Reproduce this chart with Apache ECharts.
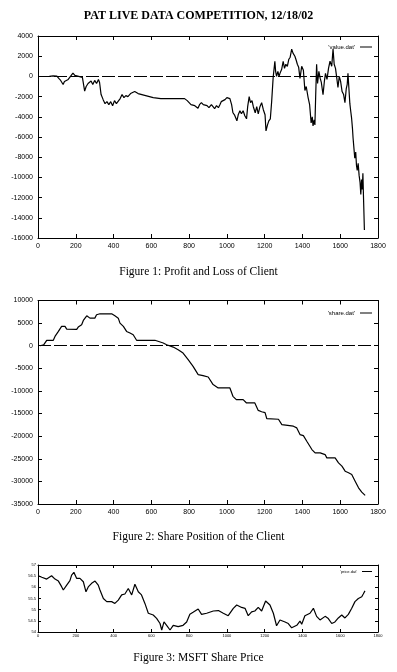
<!DOCTYPE html>
<html><head><meta charset="utf-8">
<script src="https://cdn.jsdelivr.net/npm/echarts@6/dist/echarts.min.js"></script>
<style>html,body{margin:0;padding:0;background:#fff}#c{width:397px;height:672px}</style>
</head><body><div id="c"></div>
<script>
const pnlX = [60,80,100,110,120,133,140,150,160,170,185,195,205,215,225,235,247,255,265,281,290,300,310,320,326,334,345,355,365,375,385,395,405,415,423,435,445,455,465,476,490,500,512,530,550,570,590,610,630,650,700,750,776,790,800,810,820,830,847,855,865,875,885,895,905,918,935,945,955,963,970,980,990,1000,1016,1025,1032,1040,1053,1060,1069,1077,1086,1095,1104,1110,1118,1125,1133,1140,1150,1158,1166,1175,1184,1193,1202,1207,1215,1222,1230,1237,1245,1254,1258,1263,1270,1276,1281,1290,1298,1305,1312,1320,1328,1335,1343,1350,1360,1367,1373,1380,1387,1396,1405,1413,1420,1430,1438,1446,1452,1456,1462,1466,1470,1475,1480,1487,1494,1500,1509,1516,1522,1530,1538,1546,1555,1562,1568,1575,1582,1588,1595,1602,1610,1618,1625,1632,1637,1641,1646,1651,1656,1660,1665,1668,1673,1677,1682,1686,1690,1695,1700,1705,1709,1713,1717,1720,1723,1727,1728];
const pnlY = [0,50,30,-200,-400,-800,-500,-600,-300,-200,330,100,200,0,100,-100,-1450,-1000,-700,-450,-800,-400,-700,-300,-600,-1800,-2300,-2700,-2500,-2800,-2500,-2900,-2400,-2700,-2500,-2200,-1800,-2100,-1900,-2000,-1700,-1600,-1500,-1700,-1800,-1900,-2000,-2100,-2150,-2200,-2200,-2200,-2200,-2400,-2600,-2800,-2700,-2900,-3150,-2800,-2600,-2800,-2700,-2900,-3100,-2800,-3200,-2900,-3100,-2800,-2500,-2450,-2300,-2100,-2200,-2800,-3600,-3800,-4400,-3800,-3400,-3700,-3400,-3900,-4200,-3000,-2000,-2600,-2400,-3000,-3600,-3000,-3700,-3000,-2600,-3300,-3800,-5400,-4800,-4400,-4200,-2500,-100,1500,500,0,500,0,300,700,1500,800,1200,1000,1700,1900,2700,2300,2000,1600,1200,900,-200,1000,600,-1400,-1000,-2100,-2800,-4600,-4000,-4900,-4300,-4800,-2000,1200,-700,500,-200,-600,-1800,-500,300,-300,800,1500,1000,2700,1200,800,-200,-1100,0,-500,-1500,-1800,-2600,-1200,-800,300,-1200,-2700,-3500,-4100,-5200,-6100,-7200,-8100,-7500,-8800,-9300,-8600,-9800,-10500,-11700,-10200,-11200,-9600,-11800,-11900,-15200];
const shareX = [11,30,46,81,90,108,125,143,152,205,213,231,240,258,275,301,310,328,390,407,425,434,452,469,487,504,522,619,628,663,681,716,742,768,795,821,848,874,901,927,954,1016,1032,1050,1086,1104,1148,1166,1184,1202,1211,1273,1291,1352,1370,1387,1405,1423,1450,1467,1494,1520,1529,1573,1591,1609,1626,1644,1661,1679,1697,1714,1732];
const shareY = [0,200,1200,1200,2060,3160,4270,4270,3680,3600,4120,4640,5590,6620,6100,6100,6840,7060,7060,6620,6100,5000,4270,3160,2800,2430,1200,1200,800,590,220,-300,-880,-1620,-3090,-4560,-6400,-6620,-6920,-8600,-9340,-9340,-11190,-11920,-11920,-12660,-12660,-14300,-14600,-14800,-16100,-16260,-17440,-17800,-18170,-19650,-19870,-21120,-22960,-23700,-23700,-24070,-24800,-24800,-25900,-26640,-27740,-28100,-28470,-29950,-31420,-32380,-33100];
const priceX = [2,20,46,72,90,108,125,134,152,169,178,190,205,222,240,254,266,284,302,319,328,346,364,390,407,425,443,460,478,496,513,531,548,566,584,610,628,646,655,667,681,699,716,742,768,787,804,821,848,866,893,928,955,981,1007,1034,1052,1078,1096,1113,1131,1148,1166,1184,1205,1228,1246,1263,1281,1308,1325,1343,1370,1387,1396,1413,1440,1458,1475,1493,1520,1537,1555,1572,1590,1608,1625,1643,1661,1678,1696,1714,1722,1731];
const priceY = [56.52,56.45,56.37,56.52,56.37,56.28,56.03,55.88,56.1,56.3,56.55,56.67,56.4,56.4,56.25,55.8,56.02,56.18,56.28,56.1,55.88,55.5,55.36,55.36,55.28,55.43,55.66,55.7,55.95,55.66,56.14,55.8,55.66,55.28,54.84,54.76,54.61,54.38,54.09,54.45,54.3,54.09,54.3,54.24,54.3,54.45,54.79,54.88,55.03,54.79,54.84,54.94,54.96,54.84,54.73,55.06,55.21,55.1,55.06,54.73,54.9,54.94,55.1,54.94,55.39,55.21,54.84,54.28,54.54,54.45,54.38,54.19,54.3,54.49,54.35,54.73,54.84,55.06,54.7,54.54,54.7,54.6,54.38,54.45,54.63,54.76,54.63,54.79,55.06,55.36,55.5,55.58,55.7,55.84];
const titleText = 'PAT LIVE DATA COMPETITION, 12/18/02';
const captions = ['Figure 1: Profit and Loss of Client', 'Figure 2: Share Position of the Client', 'Figure 3: MSFT Share Price'];
const seriesNames = ["'value.dat'", "'share.dat'", "'price.dat'"];

const pairs = (xs, ys) => xs.map((x, i) => [x, ys[i]]);
const chart = echarts.init(document.getElementById('c'), null, {renderer: 'canvas'});

const grids = [
  {left: 38, right: 19, top: 36, height: 202},
  {left: 38, right: 19, top: 300.5, height: 203.5},
  {left: 38, right: 19, top: 565, height: 67}
];
const yRanges = [
  {min: -16000, max: 4000, interval: 2000},
  {min: -35000, max: 10000, interval: 5000},
  {min: 54, max: 57, interval: 0.5}
];
const labelFont = [7, 7, 4];
const labelMargin = [5, 5, 2];

const xAxes = [], yAxes = [];
const line = {show: true, onZero: false, lineStyle: {color: '#000', width: 1}};
const fmt = v => String(v);
grids.forEach((g, i) => {
  const tick = {show: true, inside: true, length: i === 2 ? 3 : 4, lineStyle: {color: '#000', width: 1}};
  const lab = {show: true, color: '#000', fontSize: labelFont[i], fontFamily: 'Liberation Sans', margin: labelMargin[i], formatter: fmt};
  xAxes.push({type: 'value', gridIndex: i, position: 'bottom', min: 0, max: 1800, interval: 200,
    axisLine: line, axisTick: tick, axisLabel: lab, splitLine: {show: false}});
  xAxes.push({type: 'value', gridIndex: i, position: 'top', min: 0, max: 1800, interval: 200,
    axisLine: line, axisTick: tick, axisLabel: {show: false}, splitLine: {show: false}});
  yAxes.push(Object.assign({type: 'value', gridIndex: i, position: 'left',
    axisLine: line, axisTick: tick, axisLabel: lab, splitLine: {show: false}}, yRanges[i]));
  yAxes.push(Object.assign({type: 'value', gridIndex: i, position: 'right',
    axisLine: line, axisTick: tick, axisLabel: {show: false}, splitLine: {show: false}}, yRanges[i]));
});

const zeroLine = {silent: true, symbol: 'none', label: {show: false},
  lineStyle: {color: '#000', width: 1, type: [13, 3]}, data: [{yAxis: 0}]};

const dataSets = [pairs(pnlX, pnlY), pairs(shareX, shareY), pairs(priceX, priceY)];
const series = dataSets.map((d, i) => ({
  name: seriesNames[i], type: 'line', xAxisIndex: i * 2, yAxisIndex: i * 2,
  data: d, showSymbol: false, symbol: 'none', animation: false,
  lineStyle: {color: '#000', width: 1.2}, itemStyle: {color: '#000'},
  markLine: i < 2 ? zeroLine : undefined
}));

const legendTops = [39, 305, 564.5];
const legends = seriesNames.map((n, i) => ({
  data: [n], right: 20, top: legendTops[i], align: 'right', orient: 'vertical',
  icon: 'rect', itemWidth: i === 2 ? 10 : 12, itemHeight: 1,
  textStyle: {fontSize: i === 2 ? 4 : 6, color: '#000', fontFamily: 'Liberation Sans'},
  inactiveColor: '#000', selectedMode: false
}));

const serif = 'Liberation Serif, DejaVu Serif, serif';
const capStyle = {fontFamily: serif, fontSize: 11.5, fontWeight: 'normal', color: '#000'};
chart.setOption({
  backgroundColor: '#fff',
  animation: false,
  title: [
    {text: titleText, left: 'center', top: 5, textStyle: {fontFamily: serif, fontSize: 12, fontWeight: 'bold', color: '#000'}},
    {text: captions[0], left: 'center', top: 261, textStyle: capStyle},
    {text: captions[1], left: 'center', top: 526, textStyle: capStyle},
    {text: captions[2], left: 'center', top: 647, textStyle: capStyle}
  ],
  grid: grids,
  xAxis: xAxes,
  yAxis: yAxes,
  legend: legends,
  series: series
});
</script></body></html>
